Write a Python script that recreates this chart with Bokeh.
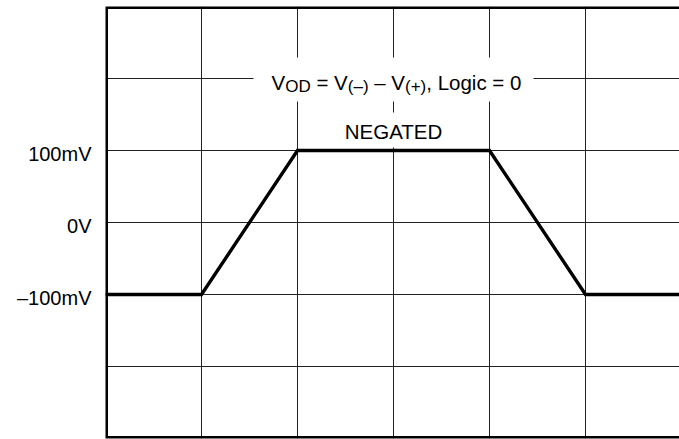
from bokeh.plotting import figure
from bokeh.models import FixedTicker, Range1d, ColumnDataSource, BoxAnnotation
from bokeh.core.properties import value
from bokeh.embed import file_html
from bokeh.resources import INLINE

# ---- data ----
time_div = [0, 1, 2, 4, 5, 6]              # grid divisions
vod_mv = [-100, -100, 100, 100, -100, -100]  # mV
y_ticks = [-100, 0, 100]
y_tick_labels = ["–100mV", "0V", "100mV"]
x_grid = [1, 2, 3, 4, 5]
y_grid = [-200, -100, 0, 100, 200]

NB = "\u00a0"
# annotation pieces: (text, is_subscript)
title_pieces = [("V", False), ("OD", True), (NB + "=" + NB + "V", False), ("(–)", True),
                (NB + "–" + NB + "V", False), ("(+)", True), ("," + NB + "Logic" + NB + "=" + NB + "0", False)]
state_label = "NEGATED"

# ---- layout constants ----
PX_X = 96.0           # px per x division
PX_Y = 72.0 / 100.0   # px per mV
FONT = "Liberation Sans"
F_MAIN = 20.5
F_SUB = 17.0
F_TICK = 20
LABEL_SHIFT = 3.0 / PX_Y   # tick labels sit slightly below their grid lines
TEXT_LIFT = 7.5            # px correction for the svg text baseline

# Arial / Liberation Sans advance widths (per 1000 em)
ADV = {"V": 667, "O": 778, "D": 722, " ": 278, NB: 278, "=": 584, "(": 333, ")": 333,
       "–": 556, "+": 584, ",": 278, "L": 556, "o": 556, "g": 556, "i": 222,
       "c": 500, "0": 556}

def width(s, size):
    return sum(ADV.get(ch, 556) for ch in s) * size / 1000.0

p = figure(width=679, height=439,
           x_range=Range1d(0, 574 / PX_X), y_range=Range1d(-300, 300),
           output_backend="svg", toolbar_location=None,
           min_border_left=105, min_border_right=0, min_border_top=6, min_border_bottom=1)

p.background_fill_color = "white"
p.border_fill_color = "white"
p.outline_line_color = None

p.extra_y_ranges = {"lab": Range1d(-300 + LABEL_SHIFT, 300 + LABEL_SHIFT)}

p.xaxis.visible = False
p.xgrid.ticker = FixedTicker(ticks=x_grid)
p.ygrid.ticker = FixedTicker(ticks=y_grid)
for g in (p.xgrid, p.ygrid):
    g.grid_line_color = "#222222"
    g.grid_line_width = 1
    g.grid_line_alpha = 1.0

ax = p.yaxis[0]
ax.y_range_name = "lab"
ax.ticker = FixedTicker(ticks=y_ticks)
ax.major_label_overrides = {t: l for t, l in zip(y_ticks, y_tick_labels)}
ax.axis_line_color = None
ax.major_tick_line_color = None
ax.minor_tick_line_color = None
ax.major_tick_out = 0
ax.major_tick_in = 0
ax.major_label_standoff = 14
ax.major_label_text_font = FONT
ax.major_label_text_font_size = f"{F_TICK}px"
ax.major_label_text_color = "black"

# white boxes behind the annotation texts (cover grid lines)
box_l = [(253 - 105) / PX_X, (340 - 105) / PX_X]
box_r = [(533 - 105) / PX_X, (446 - 105) / PX_X]
box_t = [(222 - 57) / PX_Y, (222 - 112) / PX_Y]
box_b = [(222 - 101) / PX_Y, (222 - 147) / PX_Y]
p.quad(left=box_l, right=box_r, top=box_t, bottom=box_b,
       fill_color="white", line_color=None)

# the waveform
p.line(time_div, vod_mv, line_width=3.4, line_color="black", line_join="miter")

# composed title text with subscripts
total = sum(width(t, F_SUB if s else F_MAIN) for t, s in title_pieces)
center_px = 396.0 - 105
x_px = center_px - total / 2
base_mv = (222 - 89 + TEXT_LIFT) / PX_Y
xs, ys, txt, fs = [], [], [], []
for t, s in title_pieces:
    size = F_SUB if s else F_MAIN
    xs.append(x_px / PX_X)
    ys.append(base_mv - (4 / PX_Y if s else 0))
    txt.append(t)
    fs.append(f"{size}px")
    x_px += width(t, size)
src = ColumnDataSource(dict(x=xs, y=ys, text=txt, fs=fs))
p.text(x="x", y="y", text="text", source=src, text_font=value(FONT),
       text_font_size="fs", text_baseline="alphabetic", text_align="left",
       text_color="black")

p.text(x=[3.0], y=[(222 - 138 + TEXT_LIFT) / PX_Y], text=[state_label], text_font=value(FONT),
       text_font_size=value("20.5px"), text_baseline="alphabetic", text_align="center",
       text_color="black")

# frame border: left, top and bottom (right edge lies beyond the window)
border = BoxAnnotation(left=0, right=6.3, top=300, bottom=-300,
                       fill_color=None, fill_alpha=0,
                       line_color="black", line_alpha=1.0, line_width=5,
                       line_dash="solid")
p.add_layout(border)

open("out.html", "w").write(file_html(p, INLINE))
